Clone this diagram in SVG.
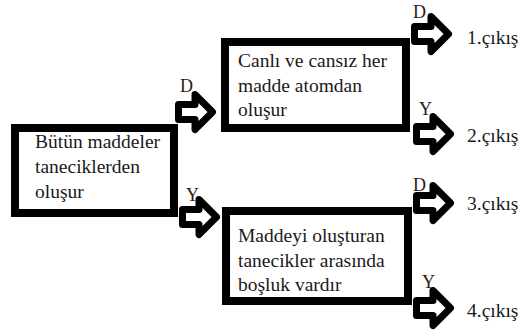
<svg xmlns="http://www.w3.org/2000/svg" xmlns:xlink="http://www.w3.org/1999/xlink" width="520" height="336" viewBox="0 0 520 336">
<style>
.box{fill:#fff;stroke:#000;stroke-width:8}
.arr{fill:#fff;stroke:#000;stroke-width:7;stroke-linejoin:round}
</style>
<defs>
<path id="arrow" class="arr" d="M3.5,-7.5 L20,-7.5 L20,-17.5 L37.5,0 L20,17.5 L20,7.5 L3.5,7.5 Z"/>
</defs>
<rect width="520" height="336" fill="#fff"/>
<g font-family="Liberation Serif, Times New Roman, Times, serif" font-size="19.5" fill="#1a1a1a">
<g id="n1">
<rect class="box" x="15" y="128" width="159" height="85"/>
<text x="35" y="148">Bütün maddeler</text>
<text x="35" y="173">taneciklerden</text>
<text x="35" y="198">oluşur</text>
</g>
<g id="n2">
<rect class="box" x="225" y="42" width="181" height="86"/>
<text x="238" y="67">Canlı ve cansız her</text>
<text x="238" y="92">madde atomdan</text>
<text x="238" y="116">oluşur</text>
</g>
<g id="n3">
<rect class="box" x="226" y="211" width="182" height="90"/>
<text x="238" y="242">Maddeyi oluşturan</text>
<text x="238" y="267">tanecikler arasında</text>
<text x="238" y="291">boşluk vardır</text>
</g>
<g id="connectors" font-size="18" fill="#2a1a10">
<use xlink:href="#arrow" transform="translate(175,112)"/>
<use xlink:href="#arrow" transform="translate(179,217)"/>
<use xlink:href="#arrow" transform="translate(411,34)"/>
<use xlink:href="#arrow" transform="translate(413,134)"/>
<use xlink:href="#arrow" transform="translate(413,203)"/>
<use xlink:href="#arrow" transform="translate(413,308)"/>
<text x="180" y="92">D</text>
<text x="186" y="201">Y</text>
<text x="413" y="18">D</text>
<text x="419" y="115">Y</text>
<text x="413" y="191">D</text>
<text x="422" y="288">Y</text>
</g>
<g id="outputs">
<text x="467" y="44">1.çıkış</text>
<text x="467" y="142">2.çıkış</text>
<text x="467" y="210">3.çıkış</text>
<text x="467" y="317">4.çıkış</text>
</g>
</g>
</svg>
